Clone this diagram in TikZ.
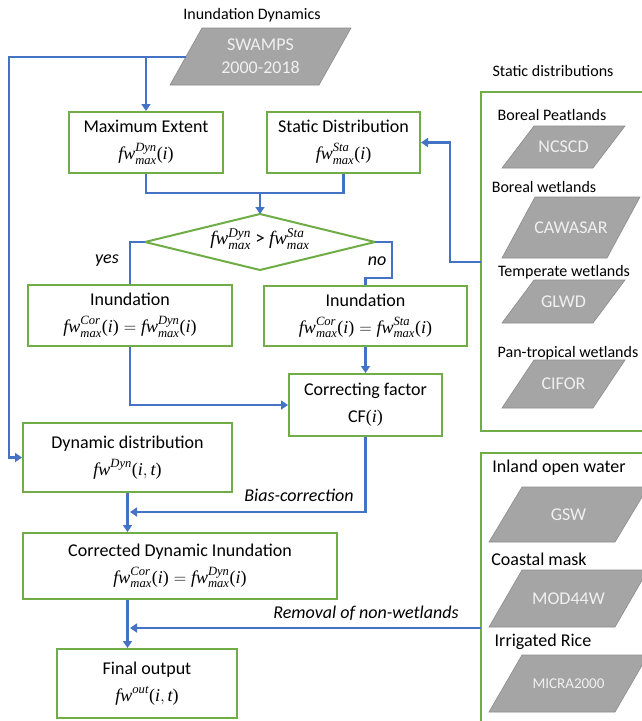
\documentclass[tikz,border=0pt]{standalone}
\usepackage{amsmath}
\usepackage{fontspec}
\setmainfont{Carlito}
\newfontfamily\mfont{Liberation Serif}
\usetikzlibrary{arrows.meta,calc}
\definecolor{flowblue}{RGB}{68,114,196}
\definecolor{boxgreen}{RGB}{112,173,71}
\definecolor{pargray}{RGB}{165,165,165}
\definecolor{partext}{RGB}{240,240,240}
\newcommand{\vi}[1]{\text{\mfont\itshape #1}}
\newcommand{\vu}[1]{\text{\mfont #1}}
\newcommand{\fwm}[1]{\vi{fw}^{\vi{#1}}_{\vi{max}}}
\newcommand{\pa}[1]{\vu{(}#1\vu{)}}
\tikzset{
  box/.style={draw=boxgreen, line width=2pt, fill=white, align=center, inner sep=0pt,
    font=\fontsize{18}{27}\selectfont},
  grp/.style={draw=boxgreen, line width=2pt},
  link/.style={draw=flowblue, line width=2.5pt},
  arr/.style={link, -{Triangle[length=7pt,width=9pt]}},
  lbl/.style={font=\fontsize{16}{19}\selectfont, inner sep=0pt},
  lblb/.style={font=\fontsize{18}{21}\selectfont, inner sep=0pt},
  itl/.style={font=\fontsize{18}{21}\selectfont\itshape, inner sep=0pt},
  pfill/.style={fill=pargray, draw=pargray!85!black, line width=0.6pt},
  ptext/.style={text=partext, align=center, inner sep=0pt, font=\fontsize{18}{23}\selectfont},
}
% name, cx, cy, edge width, height, top offset, text
\newcommand{\paral}[7]{%
  \filldraw[pfill] ({#2-#4/2-#6/2},{#3+#5/2}) -- ({#2+#4/2-#6/2},{#3+#5/2})
     -- ({#2+#4/2+#6/2},{#3-#5/2}) -- ({#2-#4/2+#6/2},{#3-#5/2}) -- cycle;
  \node[ptext] (#1) at (#2,#3) {#7};}
\begin{document}
\begin{tikzpicture}[x=1pt,y=-1pt]
\clip (0,0) rectangle (642,721);
\fill[white] (0,0) rectangle (642,721);

% titles
\node[lbl] (tdyn) at (252,15) {Inundation Dynamics};
\node[lbl] (tsta) at (553,71) {Static distributions};

% source
\paral{swamps}{260.5}{56.5}{149}{57}{32}{SWAMPS\\2000-2018}
\coordinate (swL) at (186,57);

% main boxes
\node[box, minimum width=154pt, minimum height=61pt] (maxe) at (146,142.5)
  {Maximum Extent\\$\fwm{Dyn}\pa{\vi{i}}$};
\node[box, minimum width=153pt, minimum height=61pt] (stat) at (343.5,142.5)
  {Static Distribution\\$\fwm{Sta}\pa{\vi{i}}$};

% decision
\coordinate (decT) at (260,214);
\coordinate (decR) at (375,242);
\coordinate (decB) at (260,270);
\coordinate (decL) at (145,242);
\filldraw[draw=boxgreen, line width=2pt, fill=white] (decT) -- (decR) -- (decB) -- (decL) -- cycle;
\node[inner sep=0pt, font=\fontsize{19}{21}\selectfont] (dec) at (260,239)
  {$\fwm{Dyn}$ > $\fwm{Sta}$};

\node[box, minimum width=204pt, minimum height=61pt] (inL) at (130,315.5)
  {Inundation\\$\fwm{Cor}\pa{\vi{i}} = \fwm{Dyn}\pa{\vi{i}}$};
\node[box, minimum width=203pt, minimum height=60pt] (inR) at (365.5,316)
  {Inundation\\$\fwm{Cor}\pa{\vi{i}} = \fwm{Sta}\pa{\vi{i}}$};
\node[box, minimum width=153pt, minimum height=62pt] (cf) at (365.5,405)
  {Correcting factor\\CF$\pa{\vi{i}}$};
\node[box, minimum width=209pt, minimum height=69pt] (dyn) at (127.5,457.5)
  {Dynamic distribution\\$\vi{fw}^{\vi{Dyn}}\pa{\vi{i},\vi{t}}$};
\node[box, minimum width=314pt, minimum height=66pt] (corr) at (180,566)
  {Corrected Dynamic Inundation\\$\fwm{Cor}\pa{\vi{i}} = \fwm{Dyn}\pa{\vi{i}}$};
\node[box, minimum width=180pt, minimum height=69pt] (fin) at (147,683.5)
  {Final output\\$\vi{fw}^{\vi{out}}\pa{\vi{i},\vi{t}}$};

% labels
\node[itl] (yes) at (107,261) {yes};
\node[itl] (no) at (377,261) {no};
\node[itl] (bias) at (299,495) {Bias-correction};
\node[itl] (rem) at (366,613) {Removal of non-wetlands};

% right groups
\draw[grp] (481,92) rectangle (665,431);
\draw[grp] (481,453) rectangle (665,735);
\coordinate (sgL) at (481,262);
\coordinate (rgL) at (481,628);

\node[lbl] (lbp) at (552,115) {Boreal Peatlands};
\paral{ncscd}{563.5}{147}{91}{42}{32}{NCSCD}
\node[lbl] (lbw) at (544,187) {Boreal wetlands};
\paral{cawasar}{571}{227.5}{105}{61}{33}{CAWASAR}
\node[lbl] (ltw) at (564,272) {Temperate wetlands};
\paral{glwd}{563.5}{301.5}{91}{43}{32}{GLWD}
\node[lbl] (lpw) at (568,353) {Pan-tropical wetlands};
\paral{cifor}{563.5}{384}{91}{48}{32}{CIFOR}

\node[lblb] (liw) at (559,468) {Inland open water};
\paral{gsw}{568.5}{514.5}{126}{55}{33}{GSW}
\node[lblb] (lcm) at (539,559) {Coastal mask};
\paral{mod}{568.5}{598.5}{126}{57}{33}{MOD44W}
\node[lblb] (lir) at (543,642) {Irrigated Rice};
\paral{micra}{568.5}{683.5}{126}{57}{33}{\fontsize{15}{18}\selectfont MICRA2000}

% connectors
\draw[arr] (swL) -- (9,57) |- (dyn.west);
\draw[arr] (swL -| maxe.north) -- (maxe.north);
\coordinate (jn) at (260,193);
\draw[link] (maxe.south) |- (jn) -| (stat.south);
\draw[arr] (jn) -- (decT);
\draw[link] (decL) -| (inL.north);
\draw[link] (decR) -- ++(17,0) |- ($(inR.north)+(0,-7)$) -- (inR.north);
\draw[arr] (inR.south) -- (cf.north);
\draw[arr] (inL.south) |- (cf.west);
\coordinate (bcEnd) at (130,512);
\draw[arr] (cf.south) |- (bcEnd);
\draw[arr] (dyn.south) -- (dyn.south |- corr.north);
\draw[arr] (dyn.south |- corr.south) -- (dyn.south |- fin.north);
\coordinate (rmEnd) at (130,628);
\draw[arr] (rgL) -- (rmEnd);
\draw[arr] (sgL) -- ++(-31,0) |- (stat.east);
\end{tikzpicture}
\end{document}
